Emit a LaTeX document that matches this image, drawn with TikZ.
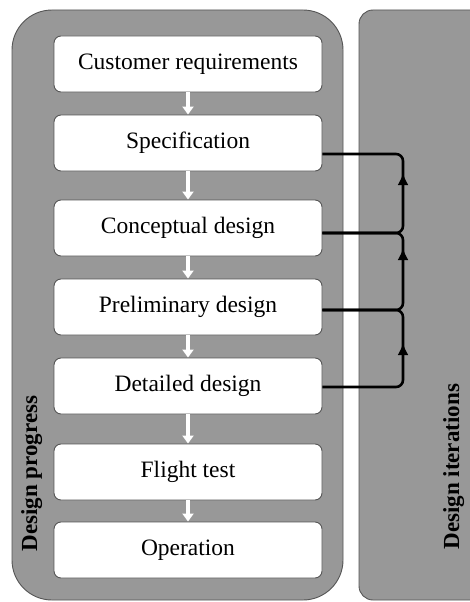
\documentclass[tikz,border=0pt]{standalone}
\usepackage{fontspec}
\setmainfont{Liberation Serif}
\usetikzlibrary{arrows.meta}
\definecolor{panelgray}{RGB}{152,152,152}
\definecolor{edgegray}{RGB}{85,85,85}

\begin{document}
\begin{tikzpicture}[x=1pt,y=-1pt,
  stage/.style={draw=edgegray,line width=0.9pt,fill=white,rounded corners=7pt,minimum width=268pt,minimum height=56pt,inner sep=0pt,font=\fontsize{23.5}{27}\selectfont},
  down/.style={white,line width=3.5pt,-{Triangle[width=11pt,length=8pt]}},
  loopback/.style={black,line width=2.6pt,rounded corners=7pt},
  tip/.style={black,line width=2.6pt,-{Latex[width=11pt,length=12pt]}},
  side/.style={rotate=90,anchor=base west,font=\fontsize{23}{27}\selectfont\bfseries}]
\useasboundingbox (0,0) rectangle (470,602);
\begin{scope}
\clip (0,0) rectangle (470,602);
\draw [edgegray,fill=panelgray,line width=0.9pt,rounded corners=40pt] (12,10) rectangle (343,600);
\draw [edgegray,fill=panelgray,line width=0.9pt,rounded corners=14pt] (359,10) rectangle (490,600);
\end{scope}

\node[stage] (cust) at (188,64) {Customer requirements};
\node[stage] (spec) at (188,143) {Specification};
\node[stage] (concept) at (188,228) {Conceptual design};
\node[stage] (prelim) at (188,307) {Preliminary design};
\node[stage] (detail) at (188,386) {Detailed design};
\node[stage] (flight) at (188,472) {Flight test};
\node[stage] (oper) at (188,550) {Operation};

\foreach \a/\b in {cust/spec,spec/concept,concept/prelim,prelim/detail,detail/flight,flight/oper}
  \draw [down] (\a) -- (\b);

% iteration loops
\coordinate (col) at (403,0);
\coordinate (s) at ([yshift=-11pt]spec.east);
\coordinate (c) at ([yshift=-5pt]concept.east);
\coordinate (p) at ([yshift=-3pt]prelim.east);
\coordinate (d) at ([yshift=-1pt]detail.east);
\draw [loopback] (d) -| (col |- p) -- (p);
\draw [loopback] (p) -| (col |- c) -- (c);
\draw [loopback] (c) -| (col |- s) -- (s);
\draw [tip] (403,360) -- (403,343);
\draw [tip] (403,265) -- (403,248);
\draw [tip] (403,190) -- (403,173);

\node[side] (prog) at (37,555) {Design progress};
\node[side] (iter) at (459,553) {Design iterations};
\end{tikzpicture}
\end{document}
